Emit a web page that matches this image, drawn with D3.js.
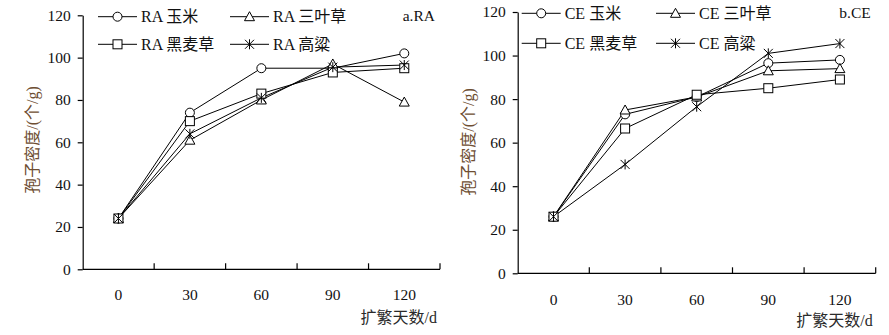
<!DOCTYPE html>
<html>
<head>
<meta charset="utf-8">
<script src="https://cdn.jsdelivr.net/npm/d3@7"></script>
<style>
  html, body { margin: 0; padding: 0; background: #fff; }
  svg { display: block; }
  text { font-family: "Liberation Serif", "Times New Roman", "Noto Sans CJK SC", serif; }
</style>
</head>
<body>
<svg id="chart" width="889" height="335"></svg>
<script>
// Days of propagation (category axis)
const days = ["0", "30", "60", "90", "120"];
const yTicks = [0, 20, 40, 60, 80, 100, 120];

// Host plants and their marker shapes
const hosts = ["玉米", "三叶草", "黑麦草", "高粱"];
const markers = ["circle", "triangle", "square", "star"];

// Spore density (spores / g), RA inoculum
const raCorn    = [24, 74, 95, 95, 102];
const raClover  = [24, 61, 80, 97, 79];
const raRyegrass= [24, 70, 83, 93, 95];
const raSorghum = [24, 64, 81, 95.5, 96.5];

// Spore density (spores / g), CE inoculum
const ceCorn    = [26, 73, 81, 96.5, 98];
const ceClover  = [26, 75, 81, 93, 94];
const ceRyegrass= [26, 66.5, 82, 85, 89];
const ceSorghum = [26, 50, 76.5, 101, 105.5];

const svg = d3.select("#chart");
const ink = "#111";

function drawMarker(g, type, x, y) {
  if (type === "circle") {
    g.append("circle").attr("cx", x).attr("cy", y).attr("r", 4.5)
      .attr("fill", "#fff").attr("stroke", "#000").attr("stroke-width", 1);
  } else if (type === "triangle") {
    const s = 5;
    g.append("path")
      .attr("d", `M${x},${y - s}L${x + s},${y + s * 0.8}L${x - s},${y + s * 0.8}Z`)
      .attr("fill", "#fff").attr("stroke", "#000").attr("stroke-width", 1);
  } else if (type === "square") {
    g.append("rect").attr("x", x - 4.5).attr("y", y - 4.5)
      .attr("width", 9).attr("height", 9)
      .attr("fill", "#fff").attr("stroke", "#000").attr("stroke-width", 1);
  } else if (type === "star") {
    const s = 4.5;
    g.append("path")
      .attr("d", `M${x - s},${y - s}L${x + s},${y + s}M${x - s},${y + s}L${x + s},${y - s}M${x},${y - s - 0.5}L${x},${y + s + 0.5}`)
      .attr("fill", "none").attr("stroke", "#000").attr("stroke-width", 1);
  }
}

function drawPanel(p) {
  const g = svg.append("g");
  const x = d3.scaleBand().domain(days).range([p.x0, p.x1]).padding(0);
  const y = d3.scaleLinear().domain([0, 120]).range([p.y0, p.y1]);

  // Y axis
  const yAxis = d3.axisLeft(y).tickValues(yTicks).tickSize(5).tickPadding(7).tickSizeOuter(0);
  const ya = g.append("g").attr("transform", `translate(${p.x0},0)`).call(yAxis);
  ya.select(".domain").attr("stroke", "#000").attr("stroke-width", 1.2);
  ya.selectAll(".tick line").attr("stroke", "#000").attr("stroke-width", 1.2);
  ya.selectAll(".tick text").attr("fill", ink).style("font-size", "15.5px")
    .style("font-family", '"Liberation Serif", serif');

  // X axis: ticks between categories, pointing inward
  const xa = g.append("g").attr("transform", `translate(0,${p.y0})`);
  xa.append("line").attr("x1", p.x0).attr("x2", p.x1).attr("y1", 0).attr("y2", 0)
    .attr("stroke", "#000").attr("stroke-width", 1.2);
  const bounds = days.slice(1).map(d => x(d)).concat([p.x1]);
  xa.selectAll("line.tk").data(bounds).enter().append("line").attr("class", "tk")
    .attr("x1", d => d).attr("x2", d => d).attr("y1", 0).attr("y2", -6)
    .attr("stroke", "#000").attr("stroke-width", 1.2);
  xa.selectAll("text.lb").data(days).enter().append("text").attr("class", "lb")
    .attr("x", d => x(d) + x.bandwidth() / 2).attr("y", p.xLabelDy)
    .attr("text-anchor", "middle").attr("dominant-baseline", "central")
    .attr("fill", ink).style("font-size", "15.5px").text(d => d);

  // Axis titles
  g.append("text").attr("x", p.x1 - 3).attr("y", p.y0 + p.xTitleDy)
    .attr("text-anchor", "end").attr("dominant-baseline", "central")
    .attr("fill", "#2a2a2a").style("font-size", "16px").text("扩繁天数/d");
  g.append("text")
    .attr("transform", `translate(${p.yTitleX},${p.yTitleY}) rotate(-90)`)
    .attr("text-anchor", "middle").attr("dominant-baseline", "central")
    .attr("fill", "#6e4e32").style("font-size", "16px").text("孢子密度/(个/g)");

  // Panel tag
  g.append("text").attr("x", p.x1 - 5).attr("y", p.tagY)
    .attr("text-anchor", "end").attr("dominant-baseline", "central")
    .attr("fill", ink).style("font-size", "15.5px").text(p.tag);

  // Lines
  const line = d3.line().x((d, i) => x(days[i]) + x.bandwidth() / 2).y(d => y(d));
  p.series.forEach(s => {
    g.append("path").datum(s).attr("d", line)
      .attr("fill", "none").attr("stroke", "#000").attr("stroke-width", 1);
  });
  // Markers
  p.series.forEach((s, k) => {
    s.forEach((v, i) => drawMarker(g, markers[k], x(days[i]) + x.bandwidth() / 2, y(v)));
  });

  // Legend
  p.series.forEach((s, k) => {
    const col = k % 2, row = Math.floor(k / 2);
    const lx = p.legX[col], ly = p.legY[row];
    g.append("line").attr("x1", lx).attr("x2", lx + 39).attr("y1", ly).attr("y2", ly)
      .attr("stroke", "#000").attr("stroke-width", 1);
    drawMarker(g, markers[k], lx + 19.5, ly);
    g.append("text").attr("x", lx + 43).attr("y", ly).attr("dominant-baseline", "central")
      .attr("fill", ink).style("font-size", "16px").text(p.prefix + " " + hosts[k]);
  });
}

drawPanel({
  x0: 82.7, x1: 440, y0: 269.3, y1: 15.3,
  xLabelDy: 295 - 269.3, xTitleDy: 317 - 269.3,
  yTitleX: 32, yTitleY: 140,
  tag: "a.RA", tagY: 15,
  prefix: "RA",
  legX: [98, 230], legY: [16.7, 44.3],
  series: [raCorn, raClover, raRyegrass, raSorghum]
});

drawPanel({
  x0: 517.7, x1: 875.7, y0: 273.3, y1: 12,
  xLabelDy: 300 - 273.3, xTitleDy: 320 - 273.3,
  yTitleX: 468, yTitleY: 142,
  tag: "b.CE", tagY: 12,
  prefix: "CE",
  legX: [521.7, 656], legY: [13.3, 43.3],
  series: [ceCorn, ceClover, ceRyegrass, ceSorghum]
});
</script>
</body>
</html>
